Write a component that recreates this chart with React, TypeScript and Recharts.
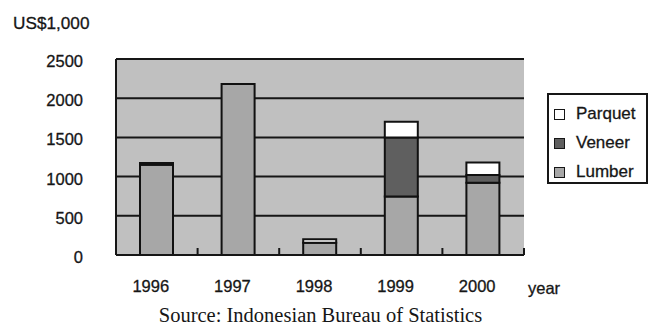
import { Bar, BarChart, CartesianGrid, XAxis, YAxis } from "recharts";

const years = ["1996", "1997", "1998", "1999", "2000"];
const lumber = [1150, 2180, 155, 745, 920];
const veneer = [20, 0, 0, 755, 100];
const parquet = [5, 0, 45, 200, 160];
const yTicks = [0, 500, 1000, 1500, 2000, 2500];

const data = years.map((year, i) => ({
  year,
  lumber: lumber[i],
  veneer: veneer[i],
  parquet: parquet[i],
}));

const W = 650;
const H = 325;
const M = { top: 59, right: 126, bottom: 0, left: 0 };
const Y_AXIS_W = 116;
const BAND = (W - M.left - M.right - Y_AXIS_W) / years.length;

const INK = "#161616";
const SANS = "'Liberation Sans', Arial, sans-serif";
const THICK = { WebkitTextStroke: "0.3px #161616" } as const;

const series = [
  { key: "parquet", name: "Parquet", color: "#ffffff" },
  { key: "veneer", name: "Veneer", color: "#5f5f5f" },
  { key: "lumber", name: "Lumber", color: "#a7a7a7" },
];

function YTick({ x, y, payload }: any) {
  return (
    <text x={x} y={y + 2} textAnchor="end" dominantBaseline="central" fill={INK} stroke={INK} strokeWidth={0.3} fontSize={16.5} fontFamily={SANS}>
      {payload.value}
    </text>
  );
}

// year label under each bar, plus the short upward tick at the right edge of each category
function XTick({ x, y, payload }: any) {
  const tx = x + BAND / 2;
  return (
    <g>
      <line x1={tx} x2={tx} y1={y - 7} y2={y} stroke={INK} strokeWidth={2} />
      <text x={x - 6} y={y + 31} textAnchor="middle" dominantBaseline="central" fill={INK} stroke={INK} strokeWidth={0.3} fontSize={16.5} fontFamily={SANS}>
        {payload.value}
      </text>
    </g>
  );
}

function LegendBox() {
  return (
    <div
      style={{
        position: "absolute",
        left: 547,
        top: 93,
        width: 97,
        height: 87,
        border: `2px solid ${INK}`,
        background: "#fff",
      }}
    >
      {series.map((s, i) => (
        <div
          key={s.key}
          style={{
            position: "absolute",
            left: 5,
            top: 9 + i * 29,
            display: "flex",
            alignItems: "center",
            height: 20,
            fontFamily: SANS,
            fontSize: 17,
            color: INK,
            ...THICK,
          }}
        >
          <span
            style={{
              display: "inline-block",
              width: 9,
              height: 9,
              border: `1.5px solid ${INK}`,
              background: s.color,
              marginRight: 11,
            }}
          />
          {s.name}
        </div>
      ))}
    </div>
  );
}

export default function App() {
  return (
    <div style={{ position: "absolute", left: 0, top: 0, width: W, height: H, background: "#fff" }}>
      <BarChart width={W} height={H} data={data} margin={M}>
        <CartesianGrid vertical={false} stroke={INK} strokeWidth={2} fill="#c0c0c0" fillOpacity={1} />
        <XAxis
          dataKey="year"
          height={70}
          axisLine={{ stroke: INK, strokeWidth: 2 }}
          tickLine={false}
          tickSize={0}
          tickMargin={0}
          tick={<XTick />}
          interval={0}
        />
        <YAxis
          width={Y_AXIS_W}
          domain={[0, 2500]}
          ticks={yTicks}
          interval={0}
          axisLine={{ stroke: INK, strokeWidth: 2 }}
          tickLine={false}
          tickSize={0}
          tickMargin={33}
          tick={<YTick />}
        />
        <Bar dataKey="lumber" name="Lumber" stackId="a" barSize={33} fill="#a7a7a7" stroke="#111" strokeWidth={2} isAnimationActive={false} />
        <Bar dataKey="veneer" name="Veneer" stackId="a" barSize={33} fill="#5f5f5f" stroke="#111" strokeWidth={2} isAnimationActive={false} />
        <Bar dataKey="parquet" name="Parquet" stackId="a" barSize={33} fill="#ffffff" stroke="#111" strokeWidth={2} isAnimationActive={false} />
      </BarChart>
      <LegendBox />
      <div style={{ position: "absolute", left: 13, top: 13, fontFamily: SANS, fontSize: 17.2, color: INK, whiteSpace: "nowrap", ...THICK }}>
        US$1,000
      </div>
      <div style={{ position: "absolute", left: 528, top: 279, fontFamily: SANS, fontSize: 16.5, color: INK, ...THICK }}>
        year
      </div>
      <div
        style={{
          position: "absolute",
          left: 0,
          width: 641,
          top: 304,
          textAlign: "center",
          fontFamily: "'Liberation Serif', 'Times New Roman', serif",
          fontSize: 20.5,
          color: INK,
          whiteSpace: "nowrap",
        }}
      >
        Source: Indonesian Bureau of Statistics
      </div>
    </div>
  );
}
